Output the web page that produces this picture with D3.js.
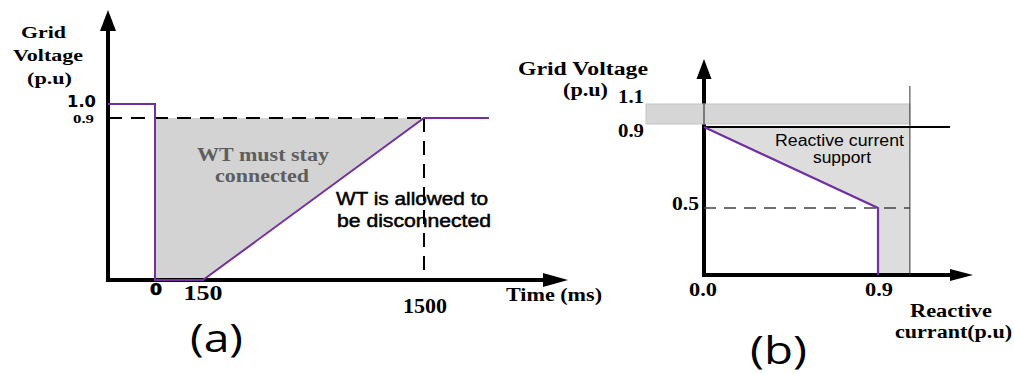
<!DOCTYPE html>
<html>
<head>
<meta charset="utf-8">
<script src="https://cdn.jsdelivr.net/npm/d3@7"></script>
<style>
  html, body { margin: 0; padding: 0; background: #fff; }
  svg { display: block; }
</style>
</head>
<body>
<svg id="chart" width="1014" height="374"></svg>
<script>
// ---------- Panel (a): voltage ride-through profile ----------
const rideTime = [-150, 0, 0, 150, 1500, 1800];       // ms
const rideVolt = [1.0, 1.0, 0, 0, 0.9, 0.9];          // p.u
const stayTime = [0, 1500, 150, 0];                   // region where the WT must stay connected
const stayVolt = [0.9, 0.9, 0, 0];
const timeTicks = [0, 150, 1500];
const timeTickLabels = ["0", "150", "1500"];
const voltTicksA = [1.0, 0.9];
const voltTickLabelsA = ["1.0", "0.9"];

// ---------- Panel (b): reactive current support ----------
const supportCurrent = [0, 0.9, 0.9];                 // p.u
const supportVolt = [0.9, 0.5, 0];
const regionCurrent = [0, 1.065, 1.065, 0.9, 0.9];
const regionVolt = [0.9, 0.9, 0, 0, 0.5];
const bandCurrent = [-0.3, 1.065];
const bandVolt = [0.9, 1.1];
const currentTicks = [0, 0.9];
const currentTickLabels = ["0.0", "0.9"];
const voltTicksB = [1.1, 0.9, 0.5];
const voltTickLabelsB = ["1.1", "0.9", "0.5"];

const PURPLE = "#7030a0";
const SERIF = "'Liberation Serif', 'Times New Roman', serif";
const SANS = "'Liberation Sans', Arial, sans-serif";
const VERD = "'DejaVu Sans', Verdana, sans-serif";
const ROUND = "'Open Sans', 'DejaVu Sans', sans-serif";

const svg = d3.select("#chart");

// helper: text stretched to a given width
function label(g, str, x, y, width, opts) {
  const o = Object.assign({ size: 16, family: SERIF, weight: "bold", anchor: "start", fill: "#000", stroke: 0 }, opts || {});
  const t = g.append("text")
    .attr("x", x).attr("y", y)
    .attr("font-family", o.family)
    .attr("font-size", o.size)
    .attr("font-weight", o.weight)
    .attr("fill", o.fill)
    .attr("text-anchor", o.anchor)
    .text(str);
  if (o.stroke) t.attr("stroke", o.fill).attr("stroke-width", o.stroke);
  if (width) t.attr("textLength", width).attr("lengthAdjust", "spacingAndGlyphs");
  return t;
}

function arrowUp(g, x, tipY, baseY, half) {
  g.append("path").attr("d", `M${x},${tipY}L${x + half},${baseY}L${x - half},${baseY}Z`).attr("fill", "#000");
}
function arrowRight(g, y, tipX, baseX, half) {
  g.append("path").attr("d", `M${tipX},${y}L${baseX},${y - half}L${baseX},${y + half}Z`).attr("fill", "#000");
}

// ================= Panel (a) =================
{
  const g = svg.append("g");
  const x = d3.scaleLinear().domain([-150, 0, 150, 1500, 1800]).range([108, 155, 203, 424, 489]);
  const y = d3.scaleLinear().domain([0, 0.9, 1.0]).range([280, 118, 104]);
  const x0 = x(-150), y0 = y(0);

  // must-stay-connected region
  g.append("path")
    .attr("d", d3.line().x(d => x(d[0])).y(d => y(d[1]))(stayTime.map((t, i) => [t, stayVolt[i]])) + "Z")
    .attr("fill", "#d3d3d3");

  // 0.9 p.u. dashed guides
  g.append("line").attr("x1", x0).attr("x2", x(1500)).attr("y1", y(0.9)).attr("y2", y(0.9))
    .attr("stroke", "#000").attr("stroke-width", 2).attr("stroke-dasharray", "14,9");
  g.append("line").attr("x1", x(1500)).attr("x2", x(1500)).attr("y1", y(0.9)).attr("y2", y0)
    .attr("stroke", "#000").attr("stroke-width", 2).attr("stroke-dasharray", "14,9");

  // axes
  g.append("line").attr("x1", x0).attr("x2", x0).attr("y1", 28).attr("y2", y0 + 2)
    .attr("stroke", "#000").attr("stroke-width", 4);
  arrowUp(g, x0, 10, 31, 8);
  g.append("line").attr("x1", x0 - 2).attr("x2", 546).attr("y1", y0).attr("y2", y0)
    .attr("stroke", "#000").attr("stroke-width", 4);
  arrowRight(g, y0, 568, 543, 7);

  // voltage profile
  g.append("path")
    .attr("d", d3.line().x(d => x(d[0])).y(d => y(d[1]))(rideTime.map((t, i) => [t, rideVolt[i]])))
    .attr("fill", "none").attr("stroke", PURPLE).attr("stroke-width", 2);

  // y tick labels
  label(g, voltTickLabelsA[0], x0 - 12, y(voltTicksA[0]) + 3, 29, { size: 16, family: VERD, anchor: "end" });
  label(g, voltTickLabelsA[1], x0 - 14, y(voltTicksA[1]) + 5, 21, { size: 12, anchor: "end" });

  // x tick labels
  label(g, timeTickLabels[0], x(timeTicks[0]) + 1, 295, 12, { size: 16, family: VERD, anchor: "middle", stroke: 0.6 });
  label(g, timeTickLabels[1], x(timeTicks[1]), 300, 39, { size: 20, anchor: "middle" });
  label(g, timeTickLabels[2], x(timeTicks[2]) + 1, 313, 44, { size: 20, anchor: "middle" });

  // axis titles
  label(g, "Grid", 21, 38, 45, { size: 17 });
  label(g, "Voltage", 13, 61, 70, { size: 17 });
  label(g, "(p.u)", 27, 84, 45, { size: 17 });
  label(g, "Time (ms)", 506, 301, 96, { size: 19 });

  // region annotations
  label(g, "WT must stay", 197, 161, 132, { size: 18, fill: "#5e5e5e" });
  label(g, "connected", 215, 182, 94, { size: 18, fill: "#5e5e5e" });
  label(g, "WT is allowed to", 336, 205, 152, { size: 18, family: SANS, weight: "normal", stroke: 0.5 });
  label(g, "be disconnected", 337, 227, 154, { size: 18, family: SANS, weight: "normal", stroke: 0.5 });

  label(g, "(a)", 190, 352, 53, { size: 38, family: ROUND, weight: "normal" });
}

// ================= Panel (b) =================
{
  const g = svg.append("g");
  const x = d3.scaleLinear().domain([0, 0.9]).range([704, 878]);
  const y = d3.scaleLinear().domain([0, 0.5, 0.9, 1.1]).range([275, 208, 127, 104]);
  const x0 = x(0), y0 = y(0);

  // reactive current support region
  g.append("path")
    .attr("d", d3.line().x(d => x(d[0])).y(d => y(d[1]))(regionCurrent.map((c, i) => [c, regionVolt[i]])) + "Z")
    .attr("fill", "#dddddd");

  // axes
  g.append("line").attr("x1", x0).attr("x2", x0).attr("y1", 76).attr("y2", y0 + 2)
    .attr("stroke", "#000").attr("stroke-width", 4);
  arrowUp(g, x0, 59, 79, 7.5);
  g.append("line").attr("x1", x0 - 2).attr("x2", 952).attr("y1", y0).attr("y2", y0)
    .attr("stroke", "#000").attr("stroke-width", 4);
  arrowRight(g, y0, 973, 950, 6);

  // normal operating band 0.9 - 1.1 p.u
  g.append("rect")
    .attr("x", x(bandCurrent[0])).attr("y", y(bandVolt[1]))
    .attr("width", x(bandCurrent[1]) - x(bandCurrent[0]))
    .attr("height", y(bandVolt[0]) - y(bandVolt[1]) - 3)
    .attr("fill", "#d6d6d6").attr("stroke", "#c4c4c4").attr("stroke-width", 1);
  g.append("line").attr("x1", x0).attr("x2", x0).attr("y1", y(bandVolt[1])).attr("y2", y(bandVolt[0]) - 3)
    .attr("stroke", "#7a7a7a").attr("stroke-width", 2);

  // boundary at the right edge of the region
  g.append("line").attr("x1", x(bandCurrent[1])).attr("x2", x(bandCurrent[1])).attr("y1", 86).attr("y2", y0)
    .attr("stroke", "#333").attr("stroke-width", 1);

  // 0.9 p.u threshold
  g.append("line").attr("x1", x0).attr("x2", 950).attr("y1", y(0.9)).attr("y2", y(0.9))
    .attr("stroke", "#000").attr("stroke-width", 2);

  // 0.5 p.u dashed guide
  g.append("line").attr("x1", x0).attr("x2", x(bandCurrent[1])).attr("y1", y(0.5)).attr("y2", y(0.5))
    .attr("stroke", "#444").attr("stroke-width", 1.3).attr("stroke-dasharray", "12,8");

  // support characteristic
  g.append("path")
    .attr("d", d3.line().x(d => x(d[0])).y(d => y(d[1]))(supportCurrent.map((c, i) => [c, supportVolt[i]])))
    .attr("fill", "none").attr("stroke", PURPLE).attr("stroke-width", 2.2);

  // y tick labels
  label(g, voltTickLabelsB[0], 644, y(voltTicksB[0]) - 1, 26, { size: 18, anchor: "end" });
  label(g, voltTickLabelsB[1], 644, y(voltTicksB[1]) + 10, 26, { size: 18, anchor: "end" });
  label(g, voltTickLabelsB[2], x0 - 5, y(voltTicksB[2]) + 2, 27, { size: 18, anchor: "end" });

  // x tick labels
  label(g, currentTickLabels[0], x(currentTicks[0]) - 1, 296, 28, { size: 18, anchor: "middle" });
  label(g, currentTickLabels[1], x(currentTicks[1]) + 1, 296, 28, { size: 18, anchor: "middle" });

  // axis titles
  label(g, "Grid  Voltage", 518, 75, 130, { size: 18 });
  label(g, "(p.u)", 563, 96, 45, { size: 18 });
  label(g, "Reactive", 910, 317, 82, { size: 18 });
  label(g, "currant(p.u)", 895, 338, 117, { size: 18 });

  // region annotation
  label(g, "Reactive current", 775, 146, 129, { size: 16, family: SANS, weight: "normal" });
  label(g, "support", 813, 163, 58, { size: 16, family: SANS, weight: "normal" });

  label(g, "(b)", 750, 364, 57, { size: 38, family: ROUND, weight: "normal" });
}
</script>
</body>
</html>
